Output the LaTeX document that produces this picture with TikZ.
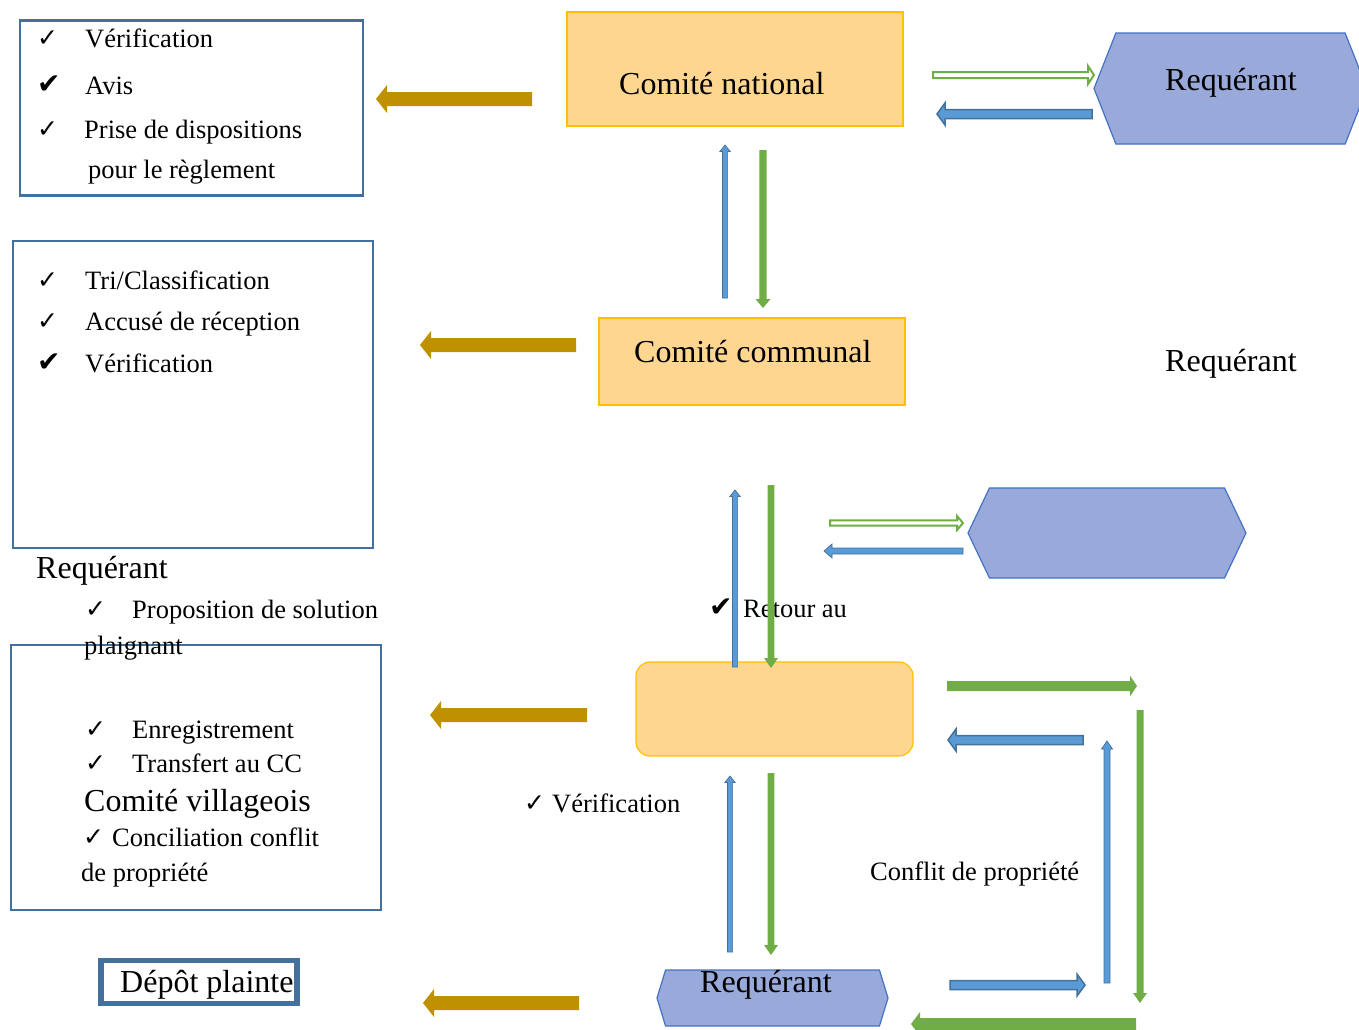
\documentclass[tikz,border=0pt]{standalone}
\usepackage{fontspec}
\setmainfont{Liberation Serif}
\newfontfamily\chkfont{DejaVu Sans}
\usetikzlibrary{calc,shapes.symbols}

\definecolor{boxblue}{HTML}{41719C}
\definecolor{comfill}{HTML}{FFD68F}
\definecolor{comline}{HTML}{FFC000}
\definecolor{hexfill}{HTML}{99AADA}
\definecolor{hexline}{HTML}{4472C4}
\definecolor{goldarr}{HTML}{BF9000}
\definecolor{greenarr}{HTML}{70AD47}
\definecolor{bluearr}{HTML}{5B9BD5}

\newcommand{\ck}[1]{\makebox[#1pt][l]{\raisebox{1pt}{\chkfont\fontsize{25}{25}\selectfont ✓}}}
\newcommand{\ckb}[1]{\makebox[#1pt][l]{\raisebox{1pt}{\chkfont\fontsize{28}{28}\selectfont ✔}}}

\newcommand{\blockarrow}[6]{%
  \coordinate (bh) at ($(#3)!#6!(#2)$);
  \path[#1] ($(#2)!#4!90:(#3)$) -- ($(bh)!#4!90:(#3)$) -- ($(bh)!#5!90:(#3)$) -- (#3)
    -- ($(bh)!#5!-90:(#3)$) -- ($(bh)!#4!-90:(#3)$) -- ($(#2)!#4!-90:(#3)$) -- cycle;
}

\begin{document}
\begin{tikzpicture}[x=1pt,y=-1pt,
  listbox/.style={draw=boxblue, line width=2.5pt, anchor=north west, inner sep=0, outer sep=0},
  combox/.style={draw=comline, fill=comfill, line width=1.2pt, anchor=north west, inner sep=0, outer sep=0},
  hexa/.style={signal, signal to=west and east, draw=hexline, fill=hexfill, line width=1.2pt, inner sep=0, outer sep=0},
  txt/.style={anchor=base west, inner sep=0, font=\fontsize{26.5}{30}\selectfont},
  bigtxt/.style={anchor=base west, inner sep=0, font=\fontsize{32}{36}\selectfont},
  goldarrow/.style={fill=goldarr},
  greenarrow/.style={fill=greenarr},
  hollowarrow/.style={fill=white, draw=greenarr, line width=2pt},
  bluearrow/.style={fill=bluearr, draw=boxblue, line width=1.5pt},
  thinblue/.style={fill=bluearr, draw=boxblue, line width=0.7pt}]

\useasboundingbox (0,0) rectangle (1359,1029);

\node[listbox, minimum width=343pt, minimum height=175pt] (lb1) at (20,20.5) {};
\node[listbox, minimum width=360pt, minimum height=307pt] (lb2) at (13,241) {};
\node[listbox, minimum width=370pt, minimum height=265pt] (lb3) at (11,645) {};
\node[listbox, line width=5.5pt, minimum width=196pt, minimum height=43pt] (depot) at (101,960.5) {};

\node[combox, minimum width=336pt, minimum height=114pt] (cn) at (567,12) {};
\node[combox, minimum width=306pt, minimum height=87pt] (cc) at (599,318) {};
\node[combox, rounded corners=14pt, minimum width=277pt, minimum height=94pt] (cv) at (636,662) {};

\node[hexa, minimum width=273pt, minimum height=111pt, signal pointer angle=137] (rq1) at (1230.5,88.5) {};
\node[hexa, minimum width=278pt, minimum height=90pt, signal pointer angle=129] (rq2) at (1107,533) {};
\node[hexa, minimum width=231pt, minimum height=56pt, signal pointer angle=146] (rq3) at (772.5,998) {};

\node[txt] (a1) at (37,47) {\ck{48}Vérification};
\node[txt] (a2) at (37,94) {\ckb{48}Avis};
\node[txt] (a3) at (37,138) {\ck{47}Prise de dispositions};
\node[txt] (a4) at (88,178) {pour le règlement};

\node[txt] (b1) at (37,289) {\ck{48}Tri/Classification};
\node[txt] (b2) at (37,330) {\ck{48}Accusé de réception};
\node[txt] (b3) at (37,372) {\ckb{48}Vérification};

\node[bigtxt] (req0) at (36,578) {Requérant};
\node[txt] (c1) at (85,618) {\ck{47}Proposition de solution};
\node[txt] (c2) at (84,654) {plaignant};
\node[txt] (c3) at (709,617) {\ckb{34}Retour au};
\node[txt] (c4) at (85,738) {\ck{47}Enregistrement};
\node[txt] (c5) at (85,772) {\ck{47}Transfert au CC};
\node[bigtxt] (cvt) at (84,811) {Comité villageois};
\node[txt] (c6) at (83,846) {\ck{29}Conciliation conflit};
\node[txt] (c7) at (81,881) {de propriété};
\node[txt] (c8) at (524,812) {\ck{28}Vérification};
\node[txt] (conf) at (870,880) {Conflit de propriété};

\node[bigtxt] (dpt) at (120,992) {Dépôt plainte};
\node[bigtxt] (cnt) at (619,94) {Comité national};
\node[bigtxt] (cct) at (634,362) {Comité communal};
\node[bigtxt] (req1) at (1165,90) {Requérant};
\node[bigtxt] (req2) at (1165,371) {Requérant};
\node[bigtxt] (req3) at (700,992) {Requérant};

\coordinate (gn1) at (532,99);   \coordinate (gn2) at (376,99);
\coordinate (gc1) at (576,345);  \coordinate (gc2) at (420,345);
\coordinate (gv1) at (587,715);  \coordinate (gv2) at (430,715);
\coordinate (gd1) at (579,1003); \coordinate (gd2) at (423,1003);
\coordinate (hn1) at (933,75);   \coordinate (hn2) at (1094,75);
\coordinate (bn1) at (1092,114); \coordinate (bn2) at (937,114);
\coordinate (un1) at (725,298);  \coordinate (un2) at (725,145);
\coordinate (dn1) at (763,150);  \coordinate (dn2) at (763,308);
\coordinate (hm1) at (830,523);  \coordinate (hm2) at (963,523);
\coordinate (bm1) at (963,551);  \coordinate (bm2) at (824,551);
\coordinate (uc1) at (735,667);  \coordinate (uc2) at (735,490);
\coordinate (dc1) at (771,485);  \coordinate (dc2) at (771,668);
\coordinate (rv1) at (947,686);  \coordinate (rv2) at (1137,686);
\coordinate (lv1) at (1083,740); \coordinate (lv2) at (948,740);
\coordinate (ur1) at (1107,983); \coordinate (ur2) at (1107,741);
\coordinate (dr1) at (1140,710); \coordinate (dr2) at (1140,1003);
\coordinate (uv1) at (730,952);  \coordinate (uv2) at (730,776);
\coordinate (dv1) at (771,773);  \coordinate (dv2) at (771,955);
\coordinate (rb1) at (950,985);  \coordinate (rb2) at (1085,985);
\coordinate (lb1) at (1136,1024); \coordinate (lb2) at (911,1024);

\blockarrow{goldarrow}{gn1}{gn2}{7pt}{14pt}{11pt}
\blockarrow{goldarrow}{gc1}{gc2}{7pt}{14pt}{11pt}
\blockarrow{goldarrow}{gv1}{gv2}{7pt}{14pt}{11pt}
\blockarrow{goldarrow}{gd1}{gd2}{7pt}{14pt}{11pt}

\blockarrow{hollowarrow}{hn1}{hn2}{3pt}{9pt}{6pt}
\blockarrow{bluearrow}{bn1}{bn2}{4.5pt}{11pt}{8pt}
\blockarrow{hollowarrow}{hm1}{hm2}{2.7pt}{7pt}{6pt}
\blockarrow{thinblue}{bm1}{bm2}{3pt}{7pt}{8pt}

\blockarrow{thinblue}{un1}{un2}{2.6pt}{5.2pt}{6.5pt}
\blockarrow{greenarrow}{dn1}{dn2}{3.7pt}{7.5pt}{9pt}
\blockarrow{thinblue}{uc1}{uc2}{2.6pt}{5.2pt}{6.5pt}
\blockarrow{greenarrow}{dc1}{dc2}{3.4pt}{7pt}{10pt}
\blockarrow{thinblue}{uv1}{uv2}{2.6pt}{5.2pt}{6.5pt}
\blockarrow{greenarrow}{dv1}{dv2}{3.4pt}{7pt}{10pt}

\blockarrow{greenarrow}{rv1}{rv2}{5pt}{10.3pt}{7pt}
\blockarrow{bluearrow}{lv1}{lv2}{4.5pt}{11pt}{8pt}
\blockarrow{thinblue}{ur1}{ur2}{3pt}{5.5pt}{8pt}
\blockarrow{greenarrow}{dr1}{dr2}{3.5pt}{7pt}{10pt}
\blockarrow{bluearrow}{rb1}{rb2}{4.5pt}{11pt}{8pt}
\blockarrow{greenarrow}{lb1}{lb2}{6pt}{12pt}{9pt}

\end{tikzpicture}
\end{document}
